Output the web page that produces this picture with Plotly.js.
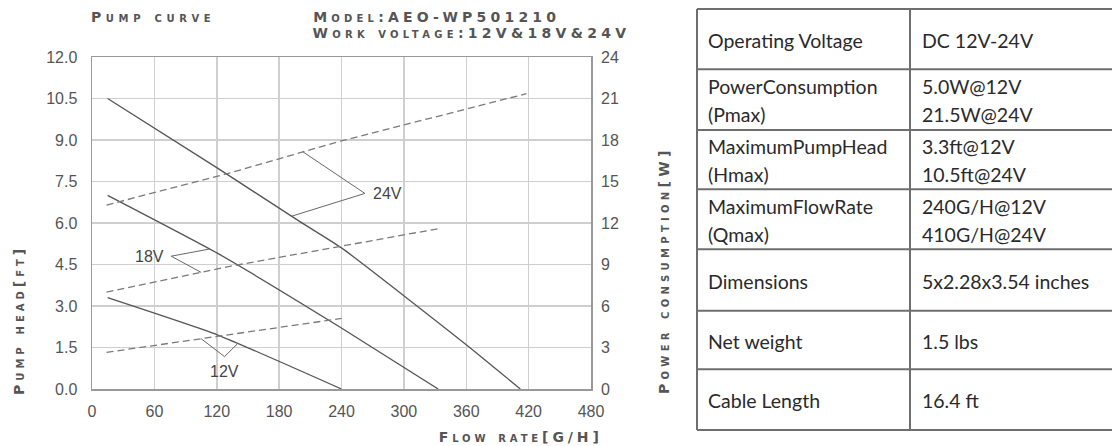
<!DOCTYPE html>
<html>
<head>
<meta charset="utf-8">
<script src="https://cdn.plot.ly/plotly-3.0.1.min.js"></script>
<style>
  html, body { margin: 0; padding: 0; background: #fff; }
  #chart { width: 1112px; height: 446px; }
  .annotation[data-index="0"] text { letter-spacing: 4.6px; }
  .annotation[data-index="1"] text { letter-spacing: 4.2px; }
  .annotation[data-index="2"] text { letter-spacing: 4.3px; }
  .annotation[data-index="3"] text { letter-spacing: 3.9px; }
  .annotation[data-index="4"] text { letter-spacing: 4.0px; }
  .annotation[data-index="5"] text { letter-spacing: 4.3px; }
</style>
</head>
<body>
<div id="chart"></div>
<script>
// ---- data ----
const flow24 = [15, 120, 200, 240, 360, 412];
const head24 = [10.5, 8.0, 6.05, 5.1, 1.6, 0];
const flow18 = [15, 121, 238, 333];
const head18 = [7.0, 4.9, 2.25, 0];
const flow12 = [15, 121, 240];
const head12 = [3.3, 1.95, 0];

const pflow24 = [14, 132, 238, 418];
const power24 = [13.3, 15.6, 17.9, 21.35];
const pflow18 = [14, 135, 238, 334];
const power18 = [7.0, 8.9, 10.3, 11.6];
const pflow12 = [14, 123, 240];
const power12 = [2.65, 3.83, 5.1];

const xTicks = [0, 60, 120, 180, 240, 300, 360, 420, 480];
const yTicks = [0, 1.5, 3, 4.5, 6, 7.5, 9, 10.5, 12];
const yTickText = ['0.0', '1.5', '3.0', '4.5', '6.0', '7.5', '9.0', '10.5', '12.0'];
const y2Ticks = [0, 3, 6, 9, 12, 15, 18, 21, 24];

const voltageLabels = ['24V', '18V', '12V'];

const specNames = [
  ['Operating Voltage'],
  ['PowerConsumption', '(Pmax)'],
  ['MaximumPumpHead', '(Hmax)'],
  ['MaximumFlowRate', '(Qmax)'],
  ['Dimensions'],
  ['Net weight'],
  ['Cable Length']
];
const specValues = [
  ['DC 12V-24V'],
  ['5.0W@12V', '21.5W@24V'],
  ['3.3ft@12V', '10.5ft@24V'],
  ['240G/H@12V', '410G/H@24V'],
  ['5x2.28x3.54 inches'],
  ['1.5 lbs'],
  ['16.4 ft']
];

// ---- helpers ----
function interp(xs, ys, x) {
  for (let i = 0; i < xs.length - 1; i++) {
    if (x >= xs[i] && x <= xs[i + 1]) {
      const t = (x - xs[i]) / (xs[i + 1] - xs[i]);
      return ys[i] + t * (ys[i + 1] - ys[i]);
    }
  }
  return ys[ys.length - 1];
}
const W2H = 12 / 24; // power axis -> head axis

// pixel -> paper helpers for layout elements outside the plot
const L = 92, R = 591, T = 57, B = 389;
const px2x = p => (p - L) / (R - L);
const py2y = p => (B - p) / (B - T);

const solidCol = '#555555';
const dashCol = '#7a7a7a';
const solidLine = {color: solidCol, width: 1.3, shape: 'spline', smoothing: 0.5};

const traces = [
  {x: flow24, y: head24, name: 'Head 24V', mode: 'lines', line: solidLine},
  {x: flow18, y: head18, name: 'Head 18V', mode: 'lines', line: solidLine},
  {x: flow12, y: head12, name: 'Head 12V', mode: 'lines', line: solidLine},
  {x: pflow24, y: power24, name: 'Power 24V', yaxis: 'y2', mode: 'lines', line: {color: dashCol, width: 1.3, dash: '7px,4px'}},
  {x: pflow18, y: power18, name: 'Power 18V', yaxis: 'y2', mode: 'lines', line: {color: dashCol, width: 1.3, dash: '7px,4px'}},
  {x: pflow12, y: power12, name: 'Power 12V', yaxis: 'y2', mode: 'lines', line: {color: dashCol, width: 1.3, dash: '7px,4px'}}
];

const titleFont = {family: 'DejaVu Sans', size: 14, weight: 'bold', color: '#555', variant: 'small-caps'};

const annotations = [
  {text: 'Pump curve', x: px2x(153), y: py2y(17)},
  {text: 'Model:AEO-WP501210', x: px2x(436.5), y: py2y(17)},
  {text: 'Work voltage:12V&18V&24V', x: px2x(471.5), y: py2y(33)},
  {text: 'Flow rate[G/H]', x: px2x(520), y: py2y(437)},
  {text: 'Pump head[ft]', x: px2x(19), y: py2y(320), textangle: -90},
  {text: 'Power consumption[W]', x: px2x(664), y: py2y(270), textangle: -90}
].map(a => Object.assign({xref: 'paper', yref: 'paper', xanchor: 'center', yanchor: 'middle', showarrow: false, font: titleFont}, a));

// voltage labels with leader lines
const elbows = [
  {x: 262.5, y: 7.07, dashX: 203, solidX: 192, hc: [flow24, head24], pc: [pflow24, power24],
   tx: 268, ty: 7.07, xa: 'left', ya: 'middle'},
  {x: 76.2, y: 4.80, dashX: 105, solidX: 113, hc: [flow18, head18], pc: [pflow18, power18],
   tx: 71.5, ty: 4.80, xa: 'right', ya: 'middle'},
  {x: 127.5, y: 1.17, dashX: 105, solidX: 140, hc: [flow12, head12], pc: [pflow12, power12],
   tx: 127.5, ty: 1.0, xa: 'center', ya: 'top'}
];
const shapes = [];
elbows.forEach((e, i) => {
  const yd = interp(e.pc[0], e.pc[1], e.dashX) * W2H;
  const ys = interp(e.hc[0], e.hc[1], e.solidX);
  shapes.push({type: 'line', xref: 'x', yref: 'y', x0: e.dashX, y0: yd, x1: e.x, y1: e.y, line: {color: '#666', width: 1}});
  shapes.push({type: 'line', xref: 'x', yref: 'y', x0: e.solidX, y0: ys, x1: e.x, y1: e.y, line: {color: '#666', width: 1}});
  annotations.push({text: voltageLabels[i], x: e.tx, y: e.ty, xref: 'x', yref: 'y', xanchor: e.xa, yanchor: e.ya,
    showarrow: false, font: {family: 'Liberation Sans', size: 16, color: '#444'}});
});

// spec table drawn with shapes + annotations
const rowEdges = [9, 69.3, 130, 189.3, 249.3, 310.7, 369.3, 430];
const colX = [697, 910, 1125];
const tLine = {color: '#6f6f6f', width: 2};
rowEdges.forEach(py => shapes.push({type: 'line', xref: 'paper', yref: 'paper',
  x0: px2x(colX[0]), x1: px2x(colX[2]), y0: py2y(py), y1: py2y(py), line: tLine}));
colX.slice(0, 2).forEach(px => shapes.push({type: 'line', xref: 'paper', yref: 'paper',
  x0: px2x(px), x1: px2x(px), y0: py2y(rowEdges[0]), y1: py2y(rowEdges[rowEdges.length - 1]), line: tLine}));
const tableFont = {family: 'Lato', size: 19.5, color: '#2a2a2a'};
function addCell(lines, leftPx, r) {
  const c = (rowEdges[r] + rowEdges[r + 1]) / 2 + 1;
  const gap = 28;
  lines.forEach((t, k) => {
    const off = (k - (lines.length - 1) / 2) * gap;
    annotations.push({text: t, xref: 'paper', yref: 'paper', x: px2x(leftPx), y: py2y(c + off),
      xanchor: 'left', yanchor: 'middle', showarrow: false, font: tableFont});
  });
}
specNames.forEach((lines, r) => addCell(lines, 706, r));
specValues.forEach((lines, r) => addCell(lines, 920, r));

const tickFont = {family: 'Liberation Sans', size: 16, color: '#555'};
const layout = {
  width: 1112, height: 446,
  margin: {l: L, r: 1112 - R, t: T, b: 446 - B},
  paper_bgcolor: '#fff', plot_bgcolor: '#fff',
  showlegend: false,
  xaxis: {range: [0, 480], tickvals: xTicks, ticks: '', showgrid: true, gridcolor: '#cfcfcf', gridwidth: 1.5,
    showline: true, linecolor: '#999', linewidth: 1.5, mirror: true, zeroline: false,
    tickfont: tickFont, ticklabelstandoff: 7},
  yaxis: {range: [0, 12], tickvals: yTicks, ticktext: yTickText, ticks: '', showgrid: true, gridcolor: '#cfcfcf', gridwidth: 1.5,
    showline: true, linecolor: '#999', linewidth: 1.5, mirror: true, zeroline: false,
    tickfont: tickFont, ticklabelstandoff: 10},
  yaxis2: {range: [0, 24], tickvals: y2Ticks, overlaying: 'y', side: 'right', ticks: '', showgrid: false,
    zeroline: false, showline: false, tickfont: tickFont, ticklabelstandoff: 9},
  shapes: shapes,
  annotations: annotations
};

Plotly.newPlot('chart', traces, layout, {displayModeBar: false, staticPlot: true});
</script>
</body>
</html>
